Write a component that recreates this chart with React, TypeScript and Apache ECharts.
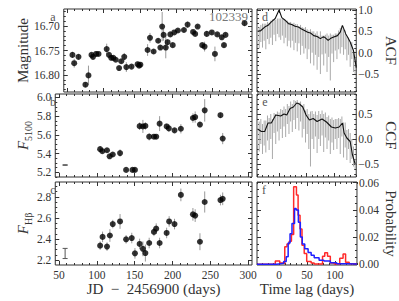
import React, { useEffect, useRef } from "react";
import * as echarts from "echarts";

const SERIF = '"Liberation Serif", "DejaVu Serif", serif';
const INK = "#333";

// ---- Panel a: magnitude light curve ----
const magT = [57, 59.4, 65.3, 74.9, 79.1, 83.3, 85.4, 89.6, 93, 104.3, 107.5, 110.5, 113.4, 116.8, 121.4, 124.4, 128.5, 131.4, 138.6, 147, 149, 150.8, 160.8, 164.1, 169.1, 175.4, 178.4, 180.9, 182.9, 185.9, 188.4, 192.2, 195.5, 197.6, 202.6, 211, 216, 223.6, 226.5, 229.9, 236.2, 239.5, 242.5, 249.5, 253.8, 257, 263.3, 266.3, 268.4, 294.7];
const magV = [16.759, 16.776, 16.763, 16.82, 16.801, 16.759, 16.763, 16.757, 16.757, 16.747, 16.759, 16.765, 16.765, 16.769, 16.786, 16.772, 16.763, 16.784, 16.783, 16.778, 16.781, 16.779, 16.749, 16.724, 16.752, 16.73, 16.744, 16.701, 16.718, 16.744, 16.733, 16.717, 16.739, 16.713, 16.709, 16.708, 16.697, 16.712, 16.716, 16.701, 16.739, 16.742, 16.716, 16.713, 16.757, 16.717, 16.723, 16.739, 16.718, 16.694];
const magE = [0.006, 0.009, 0.005, 0.005, 0.02, 0.004, 0.005, 0.006, 0.004, 0.011, 0.004, 0.004, 0.003, 0.003, 0.004, 0.004, 0.008, 0.01, 0.003, 0.005, 0.005, 0.005, 0.012, 0.01, 0.004, 0.004, 0.004, 0.03, 0.012, 0.022, 0.006, 0.004, 0.004, 0.003, 0.003, 0.005, 0.006, 0.004, 0.004, 0.003, 0.004, 0.01, 0.006, 0.004, 0.015, 0.003, 0.004, 0.004, 0.003, 0.006];

// ---- Panel b: F5100 ----
const contT = [104.3, 107.2, 113.4, 116.8, 121, 130.6, 138.6, 147, 150.3, 156.5, 160.8, 164.1, 169.1, 175.4, 178.4, 182.9, 192.2, 195.1, 202.6, 211, 226.9, 229.9, 236.2, 242.5, 263.3, 266.3];
const contV = [5.447, 5.425, 5.435, 5.37, 5.39, 5.405, 5.225, 5.225, 5.225, 5.693, 5.69, 5.695, 5.58, 5.58, 5.58, 5.72, 5.69, 5.67, 5.648, 5.665, 5.78, 5.79, 5.71, 5.862, 5.81, 5.56];
const contE = [0.03, 0.02, 0.02, 0.02, 0.02, 0.04, 0.01, 0.01, 0.02, 0.04, 0.07, 0.04, 0.04, 0.02, 0.02, 0.08, 0.03, 0.04, 0.02, 0.05, 0.05, 0.06, 0.03, 0.12, 0.03, 0.06];
const contSample = [[58, 5.277, 0.003]];

// ---- Panel c: F_Hbeta ----
const hbT = [104.3, 107.5, 113.4, 117.2, 121, 130.6, 138.6, 146.1, 150.3, 156.5, 160.8, 164.1, 169.1, 175.4, 178.4, 182.9, 192.2, 195.5, 202.6, 211, 226.9, 229.9, 236.2, 242.5, 263.3, 266.3];
const hbV = [2.338, 2.421, 2.329, 2.434, 2.542, 2.567, 2.398, 2.41, 2.265, 2.354, 2.308, 2.268, 2.363, 2.468, 2.499, 2.363, 2.458, 2.567, 2.542, 2.818, 2.634, 2.622, 2.375, 2.751, 2.769, 2.781];
const hbE = [0.04, 0.05, 0.04, 0.06, 0.04, 0.07, 0.04, 0.05, 0.05, 0.05, 0.07, 0.08, 0.05, 0.04, 0.05, 0.05, 0.05, 0.05, 0.05, 0.06, 0.06, 0.06, 0.08, 0.1, 0.05, 0.06];
const hbSample = [[58, 2.264, 0.048]];

// ---- Panel d: ACF ----
const acfLag = [-39, -33, -26, -20, -14, -7, 0, 5, 11, 17, 23, 29, 35, 40, 46, 52, 57, 63, 69, 75, 80, 83, 89, 93, 98, 106, 111, 115, 121, 125, 129, 135, 140];
const acfLine = [0.5, 0.52, 0.6, 0.64, 0.72, 0.8, 1.0, 0.82, 0.76, 0.68, 0.66, 0.62, 0.6, 0.56, 0.52, 0.48, 0.46, 0.4, 0.38, 0.33, 0.37, 0.36, 0.29, 0.33, 0.36, 0.4, 0.48, 0.64, 0.44, 0.35, 0.25, 0.05, -0.35];
const acfGrayLag = [-39, -36, -33, -30, -27, -24, -21, -18, -15, -12, -9, -6, -3, 0, 3, 6, 9, 12, 15, 18, 21, 24, 27, 30, 33, 36, 39, 42, 45, 48, 51, 54, 57, 60, 63, 66, 69, 72, 75, 78, 81, 84, 87, 90, 93, 96, 99, 102, 105, 108, 111, 114, 117, 120, 123, 126, 129, 132, 135, 138];
const acfGrayVal = [0.42, 0.35, 0.45, 0.4, 0.48, 0.38, 0.52, 0.45, 0.55, 0.48, 0.6, 0.52, 0.62, 0.58, 0.55, 0.6, 0.5, 0.55, 0.45, 0.5, 0.42, 0.48, 0.38, 0.45, 0.35, 0.42, 0.3, 0.38, 0.28, 0.35, 0.2, 0.3, 0.15, 0.25, 0.1, 0.2, 0.05, 0.15, 0.0, 0.18, 0.05, 0.2, 0.0, 0.15, -0.1, 0.2, 0.1, 0.25, 0.15, 0.3, 0.28, 0.38, 0.25, 0.3, 0.1, 0.15, -0.05, 0.05, -0.2, -0.3];
const acfGrayErr = [0.22, 0.25, 0.2, 0.28, 0.2, 0.3, 0.2, 0.25, 0.2, 0.3, 0.18, 0.25, 0.18, 0.22, 0.25, 0.2, 0.28, 0.2, 0.3, 0.22, 0.3, 0.2, 0.32, 0.22, 0.32, 0.2, 0.35, 0.22, 0.3, 0.25, 0.35, 0.22, 0.4, 0.25, 0.4, 0.25, 0.45, 0.25, 0.5, 0.22, 0.35, 0.22, 0.45, 0.25, 0.55, 0.22, 0.32, 0.2, 0.3, 0.22, 0.3, 0.25, 0.3, 0.22, 0.28, 0.2, 0.28, 0.2, 0.25, 0.2];

// ---- Panel e: CCF ----
const ccfLag = [-39, -32, -26, -20, -14, -6, 3, 9, 14, 20, 26, 32, 37, 43, 49, 55, 62, 69, 78, 86, 95, 102, 109, 115, 118, 123, 129, 133, 138];
const ccfLine = [0.2, 0.15, 0.15, 0.32, 0.32, 0.48, 0.46, 0.5, 0.48, 0.61, 0.64, 0.72, 0.7, 0.64, 0.48, 0.38, 0.41, 0.35, 0.4, 0.34, 0.24, 0.22, 0.24, 0.32, 0.12, 0.02, -0.05, -0.31, -0.5];
const ccfGrayLag = [-39, -36, -33, -30, -27, -24, -21, -18, -15, -12, -9, -6, -3, 0, 3, 6, 9, 12, 15, 18, 21, 24, 27, 30, 33, 36, 39, 42, 45, 48, 51, 54, 57, 60, 63, 66, 69, 72, 75, 78, 81, 84, 87, 90, 93, 96, 99, 102, 105, 108, 111, 114, 117, 120, 123, 126, 129, 132, 135, 138];
const ccfGrayVal = [0.12, 0.05, 0.15, 0.0, 0.12, 0.05, 0.22, 0.1, 0.25, 0.0, 0.32, 0.2, 0.35, 0.25, 0.4, 0.3, 0.45, 0.32, 0.5, 0.38, 0.55, 0.42, 0.58, 0.48, 0.6, 0.45, 0.55, 0.35, 0.45, 0.25, 0.35, 0.15, 0.0, 0.28, 0.15, 0.3, 0.1, 0.28, 0.18, 0.32, 0.12, 0.28, 0.12, 0.22, 0.05, 0.18, 0.08, 0.2, 0.1, 0.22, 0.05, 0.25, -0.02, 0.08, -0.12, 0.0, -0.18, -0.2, -0.35, -0.5];
const ccfGrayErr = [0.25, 0.3, 0.25, 0.3, 0.25, 0.32, 0.25, 0.32, 0.25, 0.4, 0.2, 0.3, 0.2, 0.28, 0.2, 0.28, 0.2, 0.28, 0.2, 0.28, 0.2, 0.28, 0.2, 0.28, 0.18, 0.28, 0.2, 0.32, 0.25, 0.32, 0.25, 0.35, 0.55, 0.28, 0.35, 0.25, 0.38, 0.28, 0.32, 0.25, 0.38, 0.25, 0.32, 0.25, 0.35, 0.25, 0.3, 0.2, 0.3, 0.2, 0.35, 0.2, 0.35, 0.25, 0.3, 0.2, 0.3, 0.2, 0.2, 0.1];

// ---- Panel f: lag distributions ----
const redLag = [-40, -7, 1, 6, 10, 14, 18, 22, 26, 31, 34, 37.5, 41, 45, 49.5, 57.5, 63, 78, 82, 87, 92, 99, 109, 115, 119.5, 126, 140];
const redProb = [0, 0.0025, 0.001, 0.0005, 0.013, 0.015, 0.017, 0.022, 0.057, 0.051, 0.036, 0.026, 0.014, 0.008, 0.002, 0.001, 0.0003, 0.006, 0.0085, 0.006, 0.001, 0.0003, 0.0045, 0.0075, 0.0015, 0.0004, 0.0004];
const blueLag = [-40, -5, 2, 8, 12.6, 16.1, 19.5, 23, 27.6, 30.5, 34.5, 38, 41.5, 46, 52, 57.5, 63, 71.8, 80.5, 92, 103.5, 121, 140];
const blueProb = [0, 0.0004, 0.0008, 0.002, 0.0055, 0.0156, 0.0224, 0.03, 0.041, 0.04, 0.031, 0.02, 0.015, 0.0115, 0.0087, 0.0067, 0.0048, 0.003, 0.0024, 0.0012, 0.0005, 0.0002, 0.0002];

// tick labels
const jdTicks = [50, 100, 150, 200, 250, 300];
const lagTicks = [0, 50, 100];
const magTicks = [16.7, 16.75, 16.8];
const contTicks = [5.2, 5.4, 5.6, 5.8, 6.0];
const hbTicks = [2.2, 2.4, 2.6, 2.8];
const acfTicks = [-0.5, 0, 0.5, 1.0];
const ccfTicks = [-0.5, 0, 0.5];
const probTicks = [0, 0.02, 0.04, 0.06];

function steps(a: number, b: number, s: number): number[] {
  const out: number[] = [];
  const n = Math.round((b - a) / s);
  for (let i = 0; i <= n; i++) out.push(Math.round((a + i * s) * 100000) / 100000);
  return out;
}

const minus = (v: number, d: number) => (v < 0 ? "\u2212" : "") + Math.abs(v).toFixed(d);

type AxOpt = {
  min: number; max: number; majors: number[]; minors: number[];
  label: boolean; labelSide?: string; fmt?: (v: number) => string; inverse?: boolean;
  name?: string; nameGap?: number; nameRotate?: number; nameStyle?: any; margin?: number;
};

function makeAxes(dim: "x" | "y", grid: number, o: AxOpt) {
  const sides = dim === "x" ? ["bottom", "top"] : ["left", "right"];
  const labelSide = o.labelSide || sides[0];
  const out: any[] = [];
  for (const side of sides) {
    for (const minor of [false, true]) {
      const isLabel = !minor && o.label && side === labelSide;
      const ax: any = {
        type: "value", gridIndex: grid, position: side, min: o.min, max: o.max,
        inverse: !!o.inverse,
        axisLine: { show: false, onZero: false }, splitLine: { show: false },
        axisPointer: { show: false },
        axisTick: { show: true, inside: true, length: minor ? 2 : 4, customValues: minor ? o.minors : o.majors, lineStyle: { color: INK, width: 1 } },
        axisLabel: isLabel
          ? { show: true, customValues: o.majors, formatter: o.fmt, fontFamily: SERIF, fontSize: 11.5, color: INK, margin: o.margin ?? 4 }
          : { show: false },
      };
      if (isLabel && o.name) {
        ax.name = o.name;
        ax.nameLocation = "middle";
        ax.nameGap = o.nameGap;
        if (o.nameRotate !== undefined) ax.nameRotate = o.nameRotate;
        ax.nameTextStyle = o.nameStyle;
      }
      out.push(ax);
    }
  }
  return out;
}

function errRender(color: string, cap: number) {
  return (params: any, api: any) => {
    const x = api.value(0), y = api.value(1), e = api.value(2);
    const a = api.coord([x, y - e]);
    const b = api.coord([x, y + e]);
    const children: any[] = [
      { type: "line", shape: { x1: a[0], y1: a[1], x2: b[0], y2: b[1] }, style: { stroke: color, lineWidth: 1 } },
    ];
    if (cap > 0) {
      children.push({ type: "line", shape: { x1: a[0] - cap, y1: a[1], x2: a[0] + cap, y2: a[1] }, style: { stroke: color, lineWidth: 1 } });
      children.push({ type: "line", shape: { x1: b[0] - cap, y1: b[1], x2: b[0] + cap, y2: b[1] }, style: { stroke: color, lineWidth: 1 } });
    }
    return { type: "group", children };
  };
}

const nameStyle = { fontFamily: SERIF, fontSize: 15, color: INK };
const subRich = {
  i: { fontFamily: SERIF, fontStyle: "italic", fontSize: 15, color: INK, lineHeight: 20 },
  s: { fontFamily: SERIF, fontSize: 10, color: INK, verticalAlign: "bottom", lineHeight: 20, padding: [8, 0, 0, 0] },
};

export default function App() {
  const ref = useRef<HTMLDivElement>(null);
  useEffect(() => {
    if (!ref.current) return;
    const chart = echarts.init(ref.current, undefined, { renderer: "svg" });

    const L = 44, LW = 208, R = 257, RW = 104;
    const tops = [9, 94, 182];
    const hs = [83, 83, 83];
    const grids: any[] = [];
    for (let r = 0; r < 3; r++) grids.push({ left: L, top: tops[r], width: LW, height: hs[r], show: true, borderColor: INK, borderWidth: 1, backgroundColor: "transparent" });
    for (let r = 0; r < 3; r++) grids.push({ left: R, top: tops[r], width: RW, height: hs[r], show: true, borderColor: INK, borderWidth: 1, backgroundColor: "transparent" });

    const xAxes: any[] = [];
    const yAxes: any[] = [];
    const jdMinor = steps(50, 300, 10);
    const lagMinor = steps(-40, 140, 10);
    for (let r = 0; r < 3; r++) {
      xAxes.push(...makeAxes("x", r, {
        min: 45, max: 305, majors: jdTicks, minors: jdMinor, label: r === 2, fmt: (v) => String(v),
        name: r === 2 ? "JD  \u2212  2456900 (days)" : undefined, nameGap: 16, nameStyle,
      }));
    }
    for (let r = 0; r < 3; r++) {
      xAxes.push(...makeAxes("x", 3 + r, {
        min: -40, max: 140, majors: lagTicks, minors: lagMinor, label: r === 2, fmt: (v) => String(v),
        name: r === 2 ? "Time lag (days)" : undefined, nameGap: 16, nameStyle,
      }));
    }
    yAxes.push(...makeAxes("y", 0, {
      min: 16.665, max: 16.835, inverse: true, majors: magTicks, minors: steps(16.67, 16.83, 0.01), label: true,
      fmt: (v) => v.toFixed(2), name: "Magnitude", nameGap: 27, nameRotate: 90, nameStyle,
    }));
    yAxes.push(...makeAxes("y", 1, {
      min: 5.149, max: 6.037, majors: contTicks, minors: steps(5.15, 6.0, 0.05), label: true,
      fmt: (v) => v.toFixed(1), name: "{i|F}{s|5100}", nameGap: 22, nameRotate: 90, nameStyle: { rich: subRich },
    }));
    yAxes.push(...makeAxes("y", 2, {
      min: 2.155, max: 2.94, majors: hbTicks, minors: steps(2.2, 2.9, 0.05), label: true,
      fmt: (v) => v.toFixed(1), name: "{i|F}{s|H\u03b2}", nameGap: 22, nameRotate: 90, nameStyle: { rich: subRich },
    }));
    yAxes.push(...makeAxes("y", 3, {
      min: -0.92, max: 1.023, majors: acfTicks, minors: steps(-0.9, 1.0, 0.1), label: true, labelSide: "right",
      fmt: (v) => minus(v, 1), name: "ACF", nameGap: 22, nameRotate: -90, nameStyle, margin: 2,
    }));
    yAxes.push(...makeAxes("y", 4, {
      min: -0.76, max: 0.9, majors: ccfTicks, minors: steps(-0.7, 0.9, 0.1), label: true, labelSide: "right",
      fmt: (v) => minus(v, 1), name: "CCF", nameGap: 22, nameRotate: -90, nameStyle, margin: 2,
    }));
    yAxes.push(...makeAxes("y", 5, {
      min: -0.0005, max: 0.0605, majors: probTicks, minors: steps(0, 0.06, 0.005), label: true, labelSide: "right",
      fmt: (v) => v.toFixed(2), name: "Probability", nameGap: 22, nameRotate: -90, nameStyle, margin: 2,
    }));

    const ax = (g: number) => ({ xAxisIndex: g * 4, yAxisIndex: g * 4 });
    const errSeries = (g: number, t: number[], v: number[], e: number[], color: string, cap = 0) => ({
      type: "custom", ...ax(g), clip: true, silent: true,
      data: t.map((tt, i) => [tt, v[i], e[i]]),
      renderItem: errRender(color, cap), z: 2,
    });
    const dots = (g: number, t: number[], v: number[]) => ({
      type: "scatter", ...ax(g), symbol: "circle", symbolSize: 6, silent: true,
      itemStyle: { color: "#000" }, data: t.map((tt, i) => [tt, v[i]]), z: 3,
    });

    const series: any[] = [
      errSeries(0, magT, magV, magE, "#999"),
      dots(0, magT, magV),
      errSeries(1, contT, contV, contE, "#999"),
      dots(1, contT, contV),
      { type: "custom", ...ax(1), silent: true, data: contSample, renderItem: errRender("#555", 2.5), z: 2 },
      errSeries(2, hbT, hbV, hbE, "#999"),
      dots(2, hbT, hbV),
      { type: "custom", ...ax(2), silent: true, data: hbSample, renderItem: errRender("#555", 2.5), z: 2 },
      errSeries(3, acfGrayLag, acfGrayVal, acfGrayErr, "#aaa"),
      { type: "line", ...ax(3), data: acfLag.map((l, i) => [l, acfLine[i]]), showSymbol: false, silent: true, lineStyle: { color: "#111", width: 1.1 }, z: 3 },
      errSeries(4, ccfGrayLag, ccfGrayVal, ccfGrayErr, "#aaa"),
      { type: "line", ...ax(4), data: ccfLag.map((l, i) => [l, ccfLine[i]]), showSymbol: false, silent: true, lineStyle: { color: "#111", width: 1.1 }, z: 3 },
      { type: "line", ...ax(5), step: "end", data: redLag.map((l, i) => [l, redProb[i]]), showSymbol: false, silent: true, lineStyle: { color: "#ff2a2a", width: 1.5 }, z: 3 },
      { type: "line", ...ax(5), step: "end", data: blueLag.map((l, i) => [l, blueProb[i]]), showSymbol: false, silent: true, lineStyle: { color: "#1f1fff", width: 1.5 }, z: 4 },
    ];

    const letter = (txt: string, x: number, y: number) => ({
      type: "text", x, y, silent: true,
      style: { text: txt, fontFamily: SERIF, fontSize: 12, fill: "#555", align: "center", verticalAlign: "middle" },
    });

    chart.setOption({
      animation: false,
      grid: grids,
      xAxis: xAxes,
      yAxis: yAxes,
      series,
      graphic: [
        letter("a", 53, 17), letter("b", 53, 102), letter("c", 53, 190),
        letter("d", 265, 17), letter("e", 265, 102), letter("f", 264, 190),
        { type: "text", x: 248, y: 16, silent: true, style: { text: "102339", fontFamily: SERIF, fontSize: 13, fill: "#777", align: "right", verticalAlign: "middle" } },
      ],
    });
    return () => chart.dispose();
  }, []);
  return <div ref={ref} style={{ position: "absolute", left: 0, top: 0, width: 399, height: 301 }} />;
}
